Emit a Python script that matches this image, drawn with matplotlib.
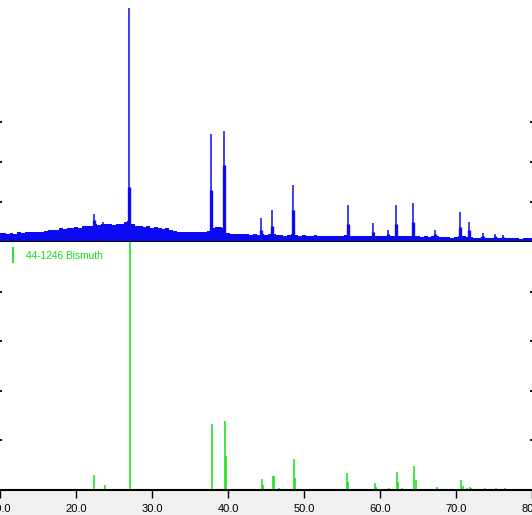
## powder XRD scan (top) with the Bismuth reference pattern (bottom)
import numpy as np
import matplotlib
matplotlib.use('Agg')
import matplotlib.pyplot as plt
from matplotlib.lines import Line2D

## measured scan: background read every 0.5 deg, peaks listed separately
bg_theta = np.arange(10.0, 80.01, 0.5)
bg_counts = [225, 225, 200, 225, 212, 238, 225, 238, 250, 238,
             262, 250, 275, 288, 300, 312, 338, 325, 350, 362,
             375, 362, 388, 400, 412, 438, 425, 462, 438, 450,
             425, 450, 438, 488, 525, 450, 412, 400, 375, 388,
             362, 375, 350, 325, 338, 300, 275, 262, 250, 262,
             238, 250, 238, 250, 250, 275, 350, 375, 375, 350,
             225, 200, 200, 188, 200, 188, 175, 188, 175, 200,
             175, 188, 200, 175, 175, 162, 175, 200, 175, 162,
             175, 162, 162, 175, 162, 150, 162, 150, 162, 150,
             150, 175, 162, 150, 150, 162, 150, 150, 162, 150,
             138, 150, 162, 150, 162, 150, 138, 138, 150, 162,
             138, 125, 138, 125, 138, 150, 125, 125, 125, 112,
             125, 138, 138, 125, 125, 112, 112, 125, 100, 100,
             100, 112, 100, 88, 88, 88, 88, 75, 88, 88, 88]

peak_theta = [22.31, 23.57, 26.98, 37.81, 39.42, 44.36, 45.76, 48.52, 55.80,
              59.13, 61.04, 62.05, 64.32, 67.29, 70.56, 71.65, 73.54, 75.15, 76.24]
peak_top = [700, 500, 5850, 2700, 2775, 600, 800, 1425, 925,
            475, 290, 925, 975, 300, 750, 500, 225, 210, 168]
peak_base = [550, 0, 1375, 1300, 1925, 300, 400, 800, 450,
             250, 200, 450, 500, 200, 375, 300, 150, 150, 125]

## reference card 44-1246 Bismuth (relative intensity %)
ref_theta = [22.39, 23.86, 27.06, 37.96, 39.60, 39.69, 44.53, 44.66, 45.87, 46.03,
             46.76, 48.73, 48.86, 55.63, 55.76, 59.33, 59.45, 61.20, 62.27, 62.40,
             62.87, 64.45, 64.72, 67.46, 67.55, 70.70, 70.96, 71.50, 71.90, 72.03,
             73.75, 75.30, 76.40]
ref_int = [6.0, 1.9, 100, 26.6, 27.8, 13.7, 4.3, 1.9, 5.6, 5.6,
           0.8, 12.4, 4.8, 6.7, 3.3, 2.7, 1.2, 0.7, 7.4, 3.2,
           0.8, 9.7, 4.0, 1.3, 1.0, 4.0, 1.7, 0.8, 1.3, 0.8,
           0.8, 0.8, 0.8]
ref_label = '44-1246 Bismuth'

x_ticks = [10, 20, 30, 40, 50, 60, 70, 80]
blue = '#0a0af5'
green = '#12e012'

plt.rcParams['font.family'] = ['Liberation Sans', 'DejaVu Sans']

fig = plt.figure(figsize=(5.32, 5.15), dpi=100, facecolor='#f0f0f0')
ax1 = fig.add_axes([0, 273 / 515, 1, 242 / 515])
ax2 = fig.add_axes([0, 25 / 515, 1, 248 / 515])

## upper panel
ax1.fill_between(bg_theta, 0, bg_counts, step='mid', color=blue, lw=0)
ax1.vlines(peak_theta, 0, peak_base, color=blue, lw=2.4)
ax1.vlines(peak_theta, 0, peak_top, color=blue, lw=1.1)
ax1.set_xlim(10.3, 80.0)
ax1.set_ylim(0, 6050)
ax1.set_xticks(x_ticks)
ax1.tick_params(axis='x', direction='out', length=2, width=1, labelbottom=False)
ax1.set_yticks([1000, 2000, 3000])
ax1.tick_params(axis='y', direction='in', length=1.2, width=1.3,
                left=True, right=True, labelleft=False)
for s in ['top', 'left', 'right']:
    ax1.spines[s].set_visible(False)
ax1.spines['bottom'].set_linewidth(1.5)

## lower panel
ax2.vlines(ref_theta, 0, ref_int, color=green, lw=1.1)
ax2.set_xlim(10.3, 80.0)
ax2.set_ylim(0, 100)
ax2.set_xticks(x_ticks)
ax2.set_xticklabels(['%.1f' % t for t in x_ticks])
ax2.tick_params(axis='x', direction='out', length=6, width=1, labelsize=8, pad=4)
ax2.set_yticks([20, 40, 60, 80])
ax2.tick_params(axis='y', direction='in', length=1.2, width=1.3,
                left=True, right=True, labelleft=False)
for s in ['top', 'left', 'right']:
    ax2.spines[s].set_visible(False)
ax2.spines['bottom'].set_linewidth(1.5)

handle = Line2D([], [], color=green, marker='|', linestyle='None',
                markersize=11, mew=1.3)
ax2.legend([handle], [ref_label], loc='upper left', bbox_to_anchor=(0, 0.98),
           frameon=False, fontsize=7.3, labelcolor=green, borderaxespad=0,
           borderpad=0.4, handlelength=1.7, handletextpad=0.45)

plt.savefig('out.png', dpi=100, facecolor=fig.get_facecolor())
